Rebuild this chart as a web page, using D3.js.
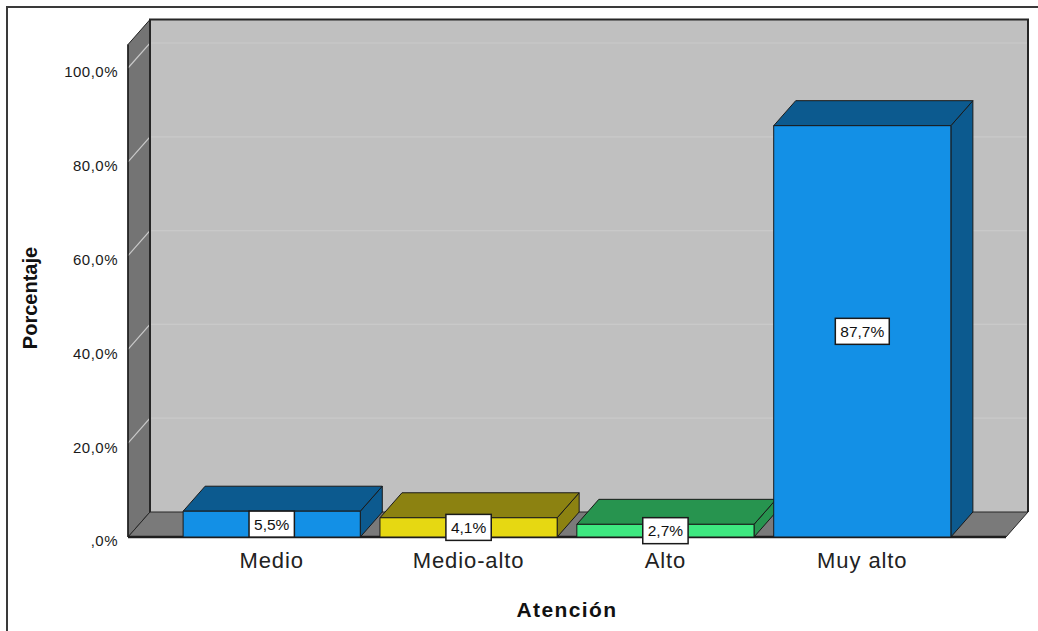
<!DOCTYPE html>
<html>
<head>
<meta charset="utf-8">
<script src="https://cdn.jsdelivr.net/npm/d3@7"></script>
<style>
  html, body { margin: 0; padding: 0; background: #fff; }
  svg { display: block; font-family: "Liberation Sans", Arial, sans-serif; }
</style>
</head>
<body>
<svg id="chart" width="1038" height="631"></svg>
<script>
// Categories and percentages for "Atención"
const categories = ["Medio", "Medio-alto", "Alto", "Muy alto"];
const percentages = [5.5, 4.1, 2.7, 87.7];
const frontColors = ["#1390e6", "#e6d812", "#3ee880", "#1390e6"];
const darkColors  = ["#0c5a8f", "#8c8211", "#27944f", "#0c5a8f"];
const tickValues = [0, 20, 40, 60, 80, 100];
const tickLabels = [",0%", "20,0%", "40,0%", "60,0%", "80,0%", "100,0%"];

const W = 1038, H = 631;
const DX = 22, DY = 25;                 // 3D depth offset
const x0 = 128, x1 = 1006;               // front floor extent
const yBase = 537;

const svg = d3.select("#chart");

const y = d3.scaleLinear().domain([0, 105]).range([yBase, yBase - 105 * 4.69]);
const x = d3.scaleBand().domain(categories).range([x0, x1])
  .paddingInner(0.1).paddingOuter(0.28);

const yTop = y(105);
const line = d3.line();

// outer frame (top and left)
svg.append("path").attr("d", line([[7, H], [7, 7], [W, 7]]))
  .attr("fill", "none").attr("stroke", "#3a3a3a").attr("stroke-width", 2);

// back wall
svg.append("rect")
  .attr("x", x0 + DX).attr("y", yTop - DY)
  .attr("width", x1 - x0).attr("height", yBase - yTop)
  .attr("fill", "#c0c0c0");

// left wall
svg.append("path")
  .attr("d", line([[x0, yBase], [x0, yTop], [x0 + DX, yTop - DY], [x0 + DX, yBase - DY]]) + "Z")
  .attr("fill", "#747474").attr("stroke", "#222").attr("stroke-width", 1);

// gridlines on the left and back walls
const grid = svg.append("g");
tickValues.filter(v => v > 0).forEach(v => {
  grid.append("path")
    .attr("d", line([[x0, y(v)], [x0 + DX, y(v) - DY], [x1 + DX, y(v) - DY]]))
    .attr("fill", "none").attr("stroke", "#c9c9c9").attr("stroke-width", 1.2);
});

// back wall edges
svg.append("path")
  .attr("d", line([[x0 + DX, yBase - DY], [x0 + DX, yTop - DY], [x1 + DX, yTop - DY], [x1 + DX, yBase - DY]]))
  .attr("fill", "none").attr("stroke", "#262626").attr("stroke-width", 2);

// floor
svg.append("path")
  .attr("d", line([[x0, yBase], [x1, yBase], [x1 + DX, yBase - DY], [x0 + DX, yBase - DY]]) + "Z")
  .attr("fill", "#7a7a7a").attr("stroke", "#262626").attr("stroke-width", 1);
svg.append("path")
  .attr("d", line([[x0, yBase], [x1, yBase]]))
  .attr("stroke", "#1e1e1e").attr("stroke-width", 2.5);
svg.append("path")
  .attr("d", line([[x0, yTop], [x0, yBase]]))
  .attr("stroke", "#1e1e1e").attr("stroke-width", 1.5);

// bars
const bars = svg.append("g");
categories.forEach((c, i) => {
  const bx0 = x(c), bx1 = x(c) + x.bandwidth();
  const by = y(percentages[i]);
  const g = bars.append("g").attr("stroke", "#1a1a1a").attr("stroke-width", 1).attr("stroke-linejoin", "round");
  // right side face
  g.append("path")
    .attr("d", line([[bx1, by], [bx1 + DX, by - DY], [bx1 + DX, yBase - DY], [bx1, yBase]]) + "Z")
    .attr("fill", darkColors[i]);
  // top face
  g.append("path")
    .attr("d", line([[bx0, by], [bx0 + DX, by - DY], [bx1 + DX, by - DY], [bx1, by]]) + "Z")
    .attr("fill", darkColors[i]);
  // front face
  g.append("rect")
    .attr("x", bx0).attr("y", by).attr("width", bx1 - bx0).attr("height", yBase - by)
    .attr("fill", frontColors[i]);
});

// value labels
const fmt = v => d3.format(".1f")(v).replace(".", ",") + "%";
const labels = svg.append("g");
categories.forEach((c, i) => {
  const cx = x(c) + x.bandwidth() / 2;
  const cy = (y(percentages[i]) + yBase) / 2;
  const t = labels.append("text")
    .attr("x", cx).attr("y", cy + 5.5)
    .attr("text-anchor", "middle")
    .attr("font-size", 15.5).attr("fill", "#111")
    .text(fmt(percentages[i]));
  const w = t.node().getComputedTextLength() + 10;
  labels.insert("rect", "text")
    .attr("x", cx - w / 2).attr("y", cy - 13)
    .attr("width", w).attr("height", 26)
    .attr("fill", "#fff").attr("stroke", "#1a1a1a").attr("stroke-width", 1.5);
  labels.node().appendChild(t.node());
});

// y axis tick labels
const yAxis = d3.axisLeft(y)
  .tickValues(tickValues)
  .tickSize(0)
  .tickPadding(0)
  .tickFormat((d, i) => tickLabels[i]);
const ax = svg.append("g").attr("transform", `translate(${x0 - 10},4)`).call(yAxis);
ax.select(".domain").remove();
ax.selectAll("text").attr("font-size", 15).attr("fill", "#1a1a1a")
  .attr("font-family", "Liberation Sans, Arial, sans-serif")
  .style("letter-spacing", "0.5px");

// x axis category labels
const xAxis = d3.axisBottom(x).tickSize(0).tickPadding(0);
const axx = svg.append("g").attr("transform", `translate(0,${yBase})`).call(xAxis);
axx.select(".domain").remove();
axx.selectAll("text").attr("font-size", 22).attr("fill", "#222")
  .attr("font-family", "Liberation Sans, Arial, sans-serif")
  .attr("dy", null).attr("y", 31)
  .style("letter-spacing", "0.9px");

// axis titles
svg.append("text")
  .attr("x", (x0 + x1) / 2).attr("y", 617)
  .attr("text-anchor", "middle")
  .attr("font-size", 21).attr("font-weight", "bold").attr("fill", "#111")
  .style("letter-spacing", "1.4px")
  .text("Atención");

svg.append("text")
  .attr("transform", "translate(37,298) rotate(-90)")
  .attr("text-anchor", "middle")
  .attr("font-size", 20).attr("font-weight", "bold").attr("fill", "#111")
  .text("Porcentaje");
</script>
</body>
</html>
